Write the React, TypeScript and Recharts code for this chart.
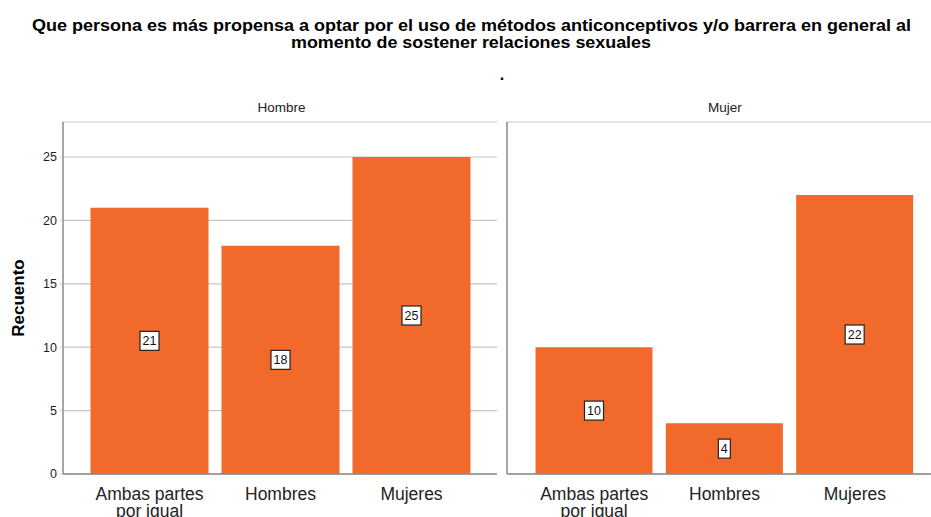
import React from "react";
import { BarChart, Bar, XAxis, YAxis, CartesianGrid, LabelList } from "recharts";

const categories = ["Ambas partes por igual", "Hombres", "Mujeres"];
const hombreCounts = [21, 18, 25];
const mujerCounts = [10, 4, 22];
const yTicks = [0, 5, 10, 15, 20, 25];
const panelTitles = ["Hombre", "Mujer"];

const titleLines = [
  "Que persona es más propensa a optar por el uso de métodos anticonceptivos y/o barrera en general al",
  "momento de sostener relaciones sexuales",
];

const BAR_COLOR = "#F2692C";
const GRID_COLOR = "#c6c6c6";
const AXIS_COLOR = "#8a8a8a";
const FONT = "'Liberation Sans', Arial, sans-serif";

const hombreData = categories.map((name, i) => ({ name, value: hombreCounts[i] }));
const mujerData = categories.map((name, i) => ({ name, value: mujerCounts[i] }));

// wrap long category names onto two lines, like the SPSS output does
function wrapLabel(text: string, max = 13): string[] {
  const words = text.split(" ");
  const lines: string[] = [];
  let cur = "";
  words.forEach((w) => {
    const next = cur ? cur + " " + w : w;
    if (next.length > max && cur) {
      lines.push(cur);
      cur = w;
    } else {
      cur = next;
    }
  });
  if (cur) lines.push(cur);
  return lines;
}

function CategoryTick(props: any) {
  const { x, y, payload } = props;
  const lines = wrapLabel(payload.value);
  return (
    <text x={x} y={y} textAnchor="middle" fontSize={17.5} fill="#222" fontFamily={FONT}>
      {lines.map((l, i) => (
        <tspan key={i} x={x} dy={i === 0 ? 17.5 : 17.5}>
          {l}
        </tspan>
      ))}
    </text>
  );
}

function ValueBox(props: any) {
  const { x, y, width, height, value } = props;
  const cx = x + width / 2;
  const cy = y + height / 2;
  const w = String(value).length * 7 + 5;
  const h = 19;
  return (
    <g>
      <rect x={cx - w / 2} y={cy - h / 2} width={w} height={h} fill="#fff" stroke="#222" strokeWidth={1.2} />
      <text x={cx} y={cy + 4.5} textAnchor="middle" fontSize={12.5} fill="#111" fontFamily={FONT}>
        {value}
      </text>
    </g>
  );
}

function Panel({ data, showTicks, width, padRight }: { data: any[]; showTicks: boolean; width: number; padRight: number }) {
  return (
    <BarChart
      width={width}
      height={517}
      data={data}
      margin={{ top: 122, right: showTicks ? 3 : 0, bottom: 0, left: 0 }}
      barCategoryGap={6.5}
    >
      <CartesianGrid vertical={false} stroke={GRID_COLOR} strokeWidth={1.2} />
      <XAxis
        dataKey="name"
        height={43}
        padding={{ left: showTicks ? 21 : 22, right: padRight }}
        axisLine={{ stroke: AXIS_COLOR, strokeWidth: 1.5 }}
        tickLine={false}
        interval={0}
        tick={<CategoryTick />}
      />
      <YAxis
        width={showTicks ? 63 : 7}
        domain={[0, 27.76]}
        ticks={yTicks}
        allowDataOverflow
        axisLine={{ stroke: AXIS_COLOR, strokeWidth: 1.5 }}
        tickLine={showTicks ? { stroke: GRID_COLOR } : false}
        tickSize={3}
        tickMargin={3}
        tick={showTicks ? { fontSize: 12.5, fill: "#222", fontFamily: FONT } : false}
      />
      <Bar dataKey="value" fill={BAR_COLOR} isAnimationActive={false}>
        <LabelList dataKey="value" content={<ValueBox />} />
      </Bar>
    </BarChart>
  );
}

export default function App() {
  return (
    <div style={{ position: "absolute", left: 0, top: 0, width: 931, height: 517, background: "#fff", overflow: "hidden", fontFamily: FONT }}>
      <div style={{ position: "absolute", left: 0, top: 0 }}>
        <Panel data={hombreData} showTicks={true} width={500} padRight={20} />
      </div>
      <div style={{ position: "absolute", left: 500, top: 0 }}>
        <Panel data={mujerData} showTicks={false} width={431} padRight={11} />
      </div>
      <svg width={931} height={517} style={{ position: "absolute", left: 0, top: 0, pointerEvents: "none" }}>
        <text x={471.5} y={31} textAnchor="middle" fontSize={16} fontWeight="bold" fill="#000" textLength={879} lengthAdjust="spacingAndGlyphs">
          {titleLines[0]}
        </text>
        <text x={471} y={48} textAnchor="middle" fontSize={16} fontWeight="bold" fill="#000" textLength={360} lengthAdjust="spacingAndGlyphs">
          {titleLines[1]}
        </text>
        <text x={502} y={80} textAnchor="middle" fontSize={16} fontWeight="bold" fill="#000">
          .
        </text>
        <text x={281.5} y={112} textAnchor="middle" fontSize={13.5} fill="#222">
          {panelTitles[0]}
        </text>
        <text x={725} y={112} textAnchor="middle" fontSize={13.5} fill="#222">
          {panelTitles[1]}
        </text>
        <text x={24} y={298} textAnchor="middle" fontSize={17} fontWeight="bold" fill="#000" transform="rotate(-90 24 298)">
          Recuento
        </text>
      </svg>
    </div>
  );
}
